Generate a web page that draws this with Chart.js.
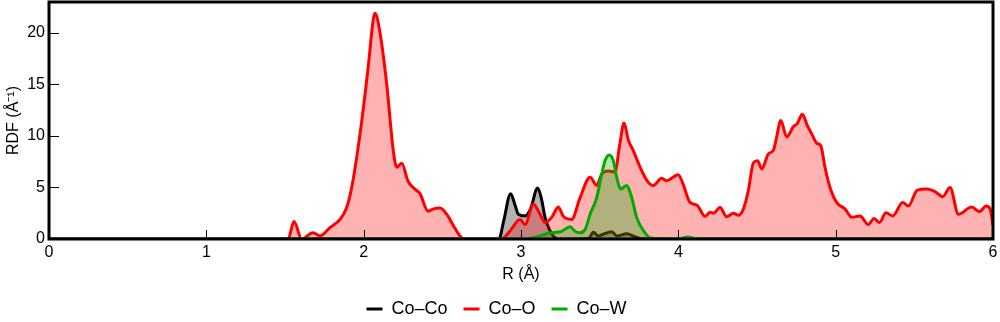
<!DOCTYPE html>
<html><head><meta charset="utf-8">
<script src="https://cdn.jsdelivr.net/npm/chart.js@4.4.1/dist/chart.umd.min.js"></script>
<style>html,body{margin:0;padding:0;background:#fff}#wrap{width:1000px;height:322px}</style>
</head><body><div id="wrap"><canvas id="c" width="1000" height="322"></canvas></div>
<script>
const seriesNames = ["Co\u2013Co", "Co\u2013O", "Co\u2013W"];
const xTickValues = [0, 1, 2, 3, 4, 5, 6];
const yTickValues = [0, 5, 10, 15, 20];

const coCoR = [0, 2.86, 2.89, 2.934, 2.96, 2.983, 3.026, 3.06, 3.106, 3.13, 3.153, 3.175, 3.205, 3.24, 3.43, 3.46, 3.49, 3.52, 3.577, 3.61, 3.672, 3.72, 3.77, 6];
const coCoV = [0, 0, 1.75, 4.4, 3.4, 2.4, 2.24, 2.9, 4.95, 3.9, 2.1, 1.1, 0.3, 0, 0.05, 0.65, 0.3, 0.45, 0.7, 0.3, 0.5, 0.25, 0, 0];

const coOR = [0, 1.52, 1.557, 1.606, 1.678, 1.722, 1.786, 1.850, 1.892, 1.924, 1.977, 2.029, 2.061, 2.072, 2.104, 2.146, 2.188, 2.210, 2.242, 2.282, 2.337, 2.358, 2.409, 2.44, 2.485, 2.528, 2.57, 2.612, 2.64,
  2.877, 2.930, 2.994, 3.026, 3.078, 3.121, 3.153, 3.195, 3.237, 3.269, 3.322, 3.375, 3.439, 3.481, 3.513, 3.555, 3.597, 3.628, 3.655, 3.682, 3.713, 3.756, 3.809, 3.841, 3.894, 3.926, 3.999, 4.031, 4.074, 4.117, 4.170, 4.202, 4.223, 4.265, 4.307, 4.350, 4.381, 4.413, 4.445, 4.477, 4.504, 4.530, 4.572, 4.604, 4.625, 4.651, 4.689, 4.731, 4.756, 4.788, 4.820, 4.848, 4.880, 4.905, 4.932, 4.964, 5.006, 5.060, 5.102, 5.155, 5.207, 5.244, 5.278, 5.320, 5.363, 5.426, 5.462, 5.519, 5.579, 5.631, 5.680, 5.727, 5.780, 5.865, 5.914, 5.957, 5.982, 6.0];
const coOV = [0, 0, 1.7, 0, 0.6, 0.3, 1.1, 1.9, 3.05, 5.0, 10.2, 16.7, 21.3, 21.9, 20.0, 15.1, 8.6, 6.96, 7.35, 5.6, 4.7, 4.4, 2.7, 2.9, 3.0, 2.4, 1.3, 0.3, 0,
  0, 0.78, 1.9, 1.4, 3.4, 2.4, 1.6, 2.1, 3.1, 2.2, 1.9, 4.0, 6.0, 5.2, 6.3, 6.6, 6.5, 9.2, 11.25, 9.6, 8.6, 7.0, 5.5, 5.2, 5.9, 5.66, 6.24, 5.3, 3.55, 3.3, 2.2, 2.6, 2.5, 3.05, 2.15, 2.5, 2.3, 2.9, 4.7, 7.4, 7.6, 6.8, 8.26, 8.6, 9.9, 11.5, 9.9, 10.9, 11.2, 12.1, 11.0, 10.2, 9.3, 9.07, 6.96, 5.0, 3.55, 2.9, 2.1, 2.24, 1.4, 2.0, 1.6, 2.54, 2.24, 3.55, 3.2, 4.75, 4.85, 4.6, 4.1, 5.0, 2.4, 3.1, 2.66, 3.2, 2.9, 1.3];

const coWR = [0, 3.04, 3.121, 3.184, 3.248, 3.28, 3.312, 3.343, 3.375, 3.41, 3.439, 3.481, 3.513, 3.534, 3.561, 3.587, 3.608, 3.634, 3.672, 3.704, 3.735, 3.788, 3.82, 4.0, 4.06, 4.12, 6];
const coWV = [0, 0, 0.3, 0.6, 0.7, 0.95, 1.2, 0.75, 0.6, 1.0, 2.4, 4.0, 6.3, 7.6, 8.16, 7.6, 6.0, 4.85, 5.2, 4.0, 2.1, 0.6, 0.1, 0, 0.2, 0, 0];

function pts(r, v) { return r.map((x, i) => ({ x: x, y: v[i] })); }

const FONT = "'Liberation Sans', Arial, sans-serif";

const framePlugin = {
  id: 'frame',
  afterDatasetsDraw(chart) {
    const { ctx, chartArea: a, scales } = chart;
    const x = scales.x, y = scales.y;
    ctx.save();
    ctx.strokeStyle = '#000';
    ctx.lineWidth = 1;
    ctx.beginPath();
    x.ticks.forEach((t, i) => {
      const px = Math.round(x.getPixelForTick(i)) + 0.5;
      ctx.moveTo(px, a.bottom); ctx.lineTo(px, a.bottom - 9);
    });
    y.ticks.forEach((t, i) => {
      const py = Math.round(y.getPixelForTick(i)) + 0.5;
      ctx.moveTo(a.left, py); ctx.lineTo(a.left + 10, py);
    });
    ctx.stroke();
    ctx.lineWidth = 3;
    ctx.strokeRect(a.left, a.top, a.right - a.left, a.bottom - a.top);
    ctx.restore();
  }
};

Chart.defaults.font.family = FONT;
Chart.defaults.color = '#000';

function keepTicks(list) {
  return (s) => { s.ticks = list.map(v => ({ value: v })); };
}

new Chart(document.getElementById('c'), {
  type: 'line',
  data: {
    datasets: [
      { label: seriesNames[0], data: pts(coCoR, coCoV), borderColor: '#000000', backgroundColor: 'rgba(0,0,0,0.3)', borderWidth: 3, fill: 'origin', order: 2 },
      { label: seriesNames[1], data: pts(coOR, coOV), borderColor: '#ff0000', backgroundColor: 'rgba(255,0,0,0.3)', borderWidth: 3, fill: 'origin', order: 1 },
      { label: seriesNames[2], data: pts(coWR, coWV), borderColor: '#00aa00', backgroundColor: 'rgba(0,170,0,0.3)', borderWidth: 3, fill: 'origin', order: 0 }
    ]
  },
  options: {
    responsive: false,
    animation: false,
    devicePixelRatio: 1,
    elements: {
      point: { radius: 0, hoverRadius: 0 },
      line: { borderWidth: 3, cubicInterpolationMode: 'monotone', borderJoinStyle: 'round' }
    },
    layout: { padding: { left: 0, right: 7, top: 2, bottom: -6 } },
    scales: {
      x: {
        type: 'linear', min: 0, max: 6,
        afterBuildTicks: keepTicks(xTickValues),
        grid: { display: false, drawTicks: false },
        border: { display: false },
        ticks: { padding: 4, font: { size: 16 }, color: '#000' },
        title: { display: true, text: 'R (\u00C5)', font: { size: 16 }, color: '#000', padding: { top: 4, bottom: 0 } },
        afterFit: (s) => { s.height = 45; s.paddingLeft = 0; s.paddingRight = 0; }
      },
      y: {
        type: 'linear', min: 0, max: 23,
        afterBuildTicks: keepTicks(yTickValues),
        grid: { display: false, drawTicks: false },
        border: { display: false },
        ticks: { padding: 4, font: { size: 16 }, color: '#000' },
        title: { display: true, text: 'RDF (\u00C5\u207B\u00B9)', font: { size: 16 }, color: '#000', padding: { top: 4, bottom: 4 } },
        afterFit: (s) => { s.width = 49; s.paddingTop = 0; s.paddingBottom = 0; }
      }
    },
    plugins: {
      tooltip: { enabled: false },
      legend: {
        position: 'bottom',
        labels: {
          usePointStyle: true, pointStyle: 'line', pointStyleWidth: 16,
          font: { size: 18 }, color: '#000', padding: 16,
          sort: (a, b) => a.datasetIndex - b.datasetIndex
        }
      }
    }
  },
  plugins: [framePlugin]
});
</script>
</body></html>
